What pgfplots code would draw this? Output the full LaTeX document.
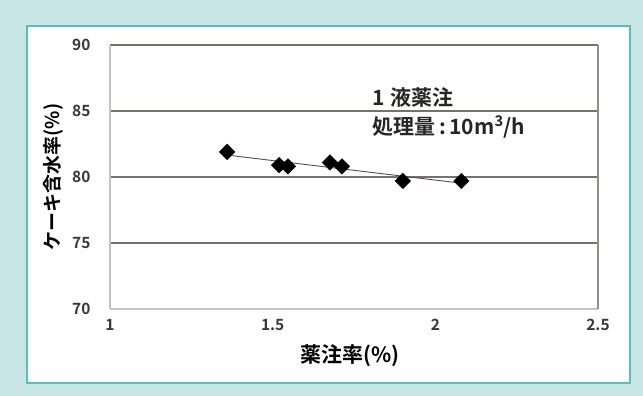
\documentclass[border=0pt]{standalone}
\usepackage{pgfplots}
\pgfplotsset{compat=1.18}
\usepackage{fontspec}
\setmainfont{Noto Sans CJK JP}
\newfontfamily\jpbold{Noto Sans CJK JP Bold}
\definecolor{bgcyan}{HTML}{C8E6E6}
\definecolor{frameteal}{HTML}{5CBDBE}
\definecolor{gridbrown}{HTML}{77716C}
\definecolor{leftgray}{HTML}{C4C4C4}
\begin{document}
\begin{tikzpicture}[x=1pt,y=1pt]
% background panel and white card
\fill[bgcyan] (0,0) rectangle (643,396);
\fill[white] (27,13) rectangle (630,370);
\draw[frameteal,line width=1.2pt] (27,13) rectangle (630,370);
\coordinate (origin) at (110,87);
\begin{axis}[
  at={(origin)}, anchor=south west,
  scale only axis, width=488pt, height=264pt,
  xmin=1, xmax=2.5, ymin=70, ymax=90,
  xtick={1,1.5,2,2.5}, ytick={70,75,80,85,90},
  xticklabels={1,1.5,2,2.5}, yticklabels={70,75,80,85,90},
  tick style={draw=none},
  ymajorgrids, grid style={gridbrown,line width=1.4pt},
  axis line style={draw=none},
  ticklabel style={font=\jpbold\fontsize{15.5}{15.5}\selectfont, text=black!78},
  xticklabel style={yshift=-7pt},
  yticklabel style={xshift=-16pt},
  xlabel={\jpbold 薬注率(\%)},
  ylabel={\jpbold ケーキ含水率(\%)},
  xlabel style={font=\fontsize{21}{21}\selectfont, at={(axis description cs:0.492,-0.175)}, anchor=center},
  ylabel style={font=\fontsize{19}{19}\selectfont, at={(axis description cs:-0.116,0.5)}, anchor=center},
  clip=false,
]
% plot area frame
\draw[leftgray,line width=1.2pt] (axis cs:1,70) -- (axis cs:1,90);
\draw[leftgray,line width=1.2pt] (axis cs:1,70) -- (axis cs:2.5,70);
\draw[gridbrown!80,line width=1.2pt] (axis cs:2.5,70) -- (axis cs:2.5,90);
% linear trend
\addplot[gridbrown!70!black,line width=0.9pt] coordinates {(1.36,81.66) (2.08,79.53)};
% measurements
\addplot[only marks,mark=square*,mark size=5.5pt,mark options={rotate=45},black] coordinates {
  (1.36,81.9) (1.52,80.9) (1.547,80.8) (1.676,81.1) (1.713,80.8) (1.90,79.7) (2.08,79.7)};
\node[anchor=west,font=\jpbold\fontsize{21}{21}\selectfont,inner sep=0pt,text=black!85] at (axis cs:1.807,86.0) {1\hspace{5pt}液薬注};
\node[anchor=west,font=\jpbold\fontsize{21}{21}\selectfont,inner sep=0pt,text=black!85] at (axis cs:1.807,83.8) {処理量\,:\,10m\textsuperscript{3}/h};
\end{axis}
\end{tikzpicture}
\end{document}
